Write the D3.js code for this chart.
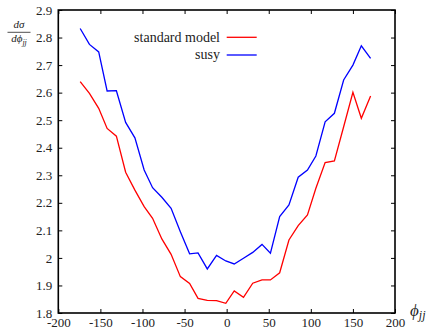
<!DOCTYPE html>
<html>
<head>
<meta charset="utf-8">
<script src="https://cdn.jsdelivr.net/npm/d3@7"></script>
<style>
  html, body { margin: 0; padding: 0; background: #fff; }
  svg { display: block; }
  svg text { font-family: "Liberation Serif", "Times New Roman", "DejaVu Serif", serif; }
</style>
</head>
<body>
<svg id="chart" width="433" height="329"></svg>
<script>
// ---- data ----
const phi = [-174, -163, -152, -142, -131, -120, -109, -98, -88, -77, -66, -55, -44, -34, -23, -12, -1,
             9, 20, 31, 42, 52, 63, 74, 85, 96, 106, 117, 128, 139, 150, 160, 171];
const standardModel = [2.640, 2.597, 2.543, 2.470, 2.442, 2.311, 2.246, 2.186, 2.144, 2.069, 2.013, 1.932,
                       1.907, 1.853, 1.846, 1.845, 1.835, 1.880, 1.857, 1.908, 1.920, 1.920, 1.946, 2.065,
                       2.117, 2.156, 2.253, 2.346, 2.352, 2.476, 2.601, 2.507, 2.588];
const susy = [2.833, 2.775, 2.748, 2.606, 2.607, 2.492, 2.436, 2.319, 2.255, 2.220, 2.180, 2.095,
              2.015, 2.018, 1.960, 2.009, 1.989, 1.978, 1.999, 2.020, 2.049, 2.017, 2.150, 2.192,
              2.293, 2.319, 2.370, 2.494, 2.525, 2.646, 2.700, 2.770, 2.724];
const xTicks = [-200, -150, -100, -50, 0, 50, 100, 150, 200];
const yTicks = [1.8, 1.9, 2.0, 2.1, 2.2, 2.3, 2.4, 2.5, 2.6, 2.7, 2.8, 2.9];
const seriesNames = ["standard model", "susy"];
const seriesColors = ["#ff0000", "#0000ff"];

// ---- layout ----
const svg = d3.select("#chart");
const L = 58.3, R = 395, T = 10, B = 313;
const x = d3.scaleLinear().domain([-200, 200]).range([L, R]);
const y = d3.scaleLinear().domain([1.8, 2.9]).range([B, T]);

const fmtY = d => (Math.abs(d - Math.round(d)) < 1e-9 ? d3.format("d")(d) : d3.format(".1f")(d));
const FONT = "'Liberation Serif', 'Times New Roman', 'DejaVu Serif', serif";

// axes (ticks inward, mirrored)
const gl = svg.append("g").attr("transform", `translate(${L},0)`)
  .call(d3.axisLeft(y).tickValues(yTicks).tickSize(-4).tickPadding(6).tickFormat(fmtY));
const gr = svg.append("g").attr("transform", `translate(${R},0)`)
  .call(d3.axisRight(y).tickValues(yTicks).tickSize(-4).tickFormat(""));
const gb = svg.append("g").attr("transform", `translate(0,${B})`)
  .call(d3.axisBottom(x).tickValues(xTicks).tickSize(-4).tickPadding(5).tickFormat(d3.format("d")));
const gt = svg.append("g").attr("transform", `translate(0,${T})`)
  .call(d3.axisTop(x).tickValues(xTicks).tickSize(-4).tickFormat(""));

[gl, gr, gb, gt].forEach(g => {
  g.attr("font-family", FONT).attr("font-size", 13);
  g.select(".domain").remove();
  g.selectAll(".tick line").attr("stroke", "#000").attr("stroke-width", 1);
  g.selectAll(".tick text").attr("fill", "#222");
});
gb.selectAll(".tick text").text(d => String(d));

// frame
svg.append("rect").attr("x", L).attr("y", T).attr("width", R - L).attr("height", B - T)
  .attr("fill", "none").attr("stroke", "#000").attr("stroke-width", 1.6);

// lines
const line = d3.line().x((d, i) => x(phi[i])).y(d => y(d));
[standardModel, susy].forEach((s, k) => {
  svg.append("path").datum(s).attr("d", line).attr("fill", "none")
    .attr("stroke", seriesColors[k]).attr("stroke-width", 1.3).attr("stroke-linejoin", "miter");
});

// legend
const legY = [37.3, 55];
seriesNames.forEach((n, k) => {
  svg.append("text").attr("x", 220).attr("y", legY[k]).attr("dy", "0.32em")
    .attr("text-anchor", "end").attr("fill", "#222").attr("font-family", FONT)
    .attr("font-size", 14).text(n);
  svg.append("line").attr("x1", 226.7).attr("x2", 256.7).attr("y1", legY[k]).attr("y2", legY[k])
    .attr("stroke", seriesColors[k]).attr("stroke-width", 1.3);
});

// y-axis label: dσ / dϕ_jj
const yl = svg.append("g").attr("fill", "#222").attr("font-style", "italic").attr("font-family", FONT);
yl.append("text").attr("x", 19).attr("y", 28).attr("text-anchor", "middle").attr("font-size", 11).text("dσ");
yl.append("line").attr("x1", 7.5).attr("x2", 30.5).attr("y1", 32.3).attr("y2", 32.3)
  .attr("stroke", "#222").attr("stroke-width", 0.8);
const yb = yl.append("text").attr("x", 19).attr("y", 42).attr("text-anchor", "middle").attr("font-size", 11);
yb.append("tspan").text("dϕ");
yb.append("tspan").attr("dy", 2.5).attr("font-size", 8).text("jj");

// x-axis label: ϕ_jj
const xl = svg.append("text").attr("x", 410).attr("y", 316).attr("fill", "#222")
  .attr("font-style", "italic").attr("font-family", FONT).attr("font-size", 17);
xl.append("tspan").text("ϕ");
xl.append("tspan").attr("dy", 3).attr("font-size", 12).text("jj");
</script>
</body>
</html>
